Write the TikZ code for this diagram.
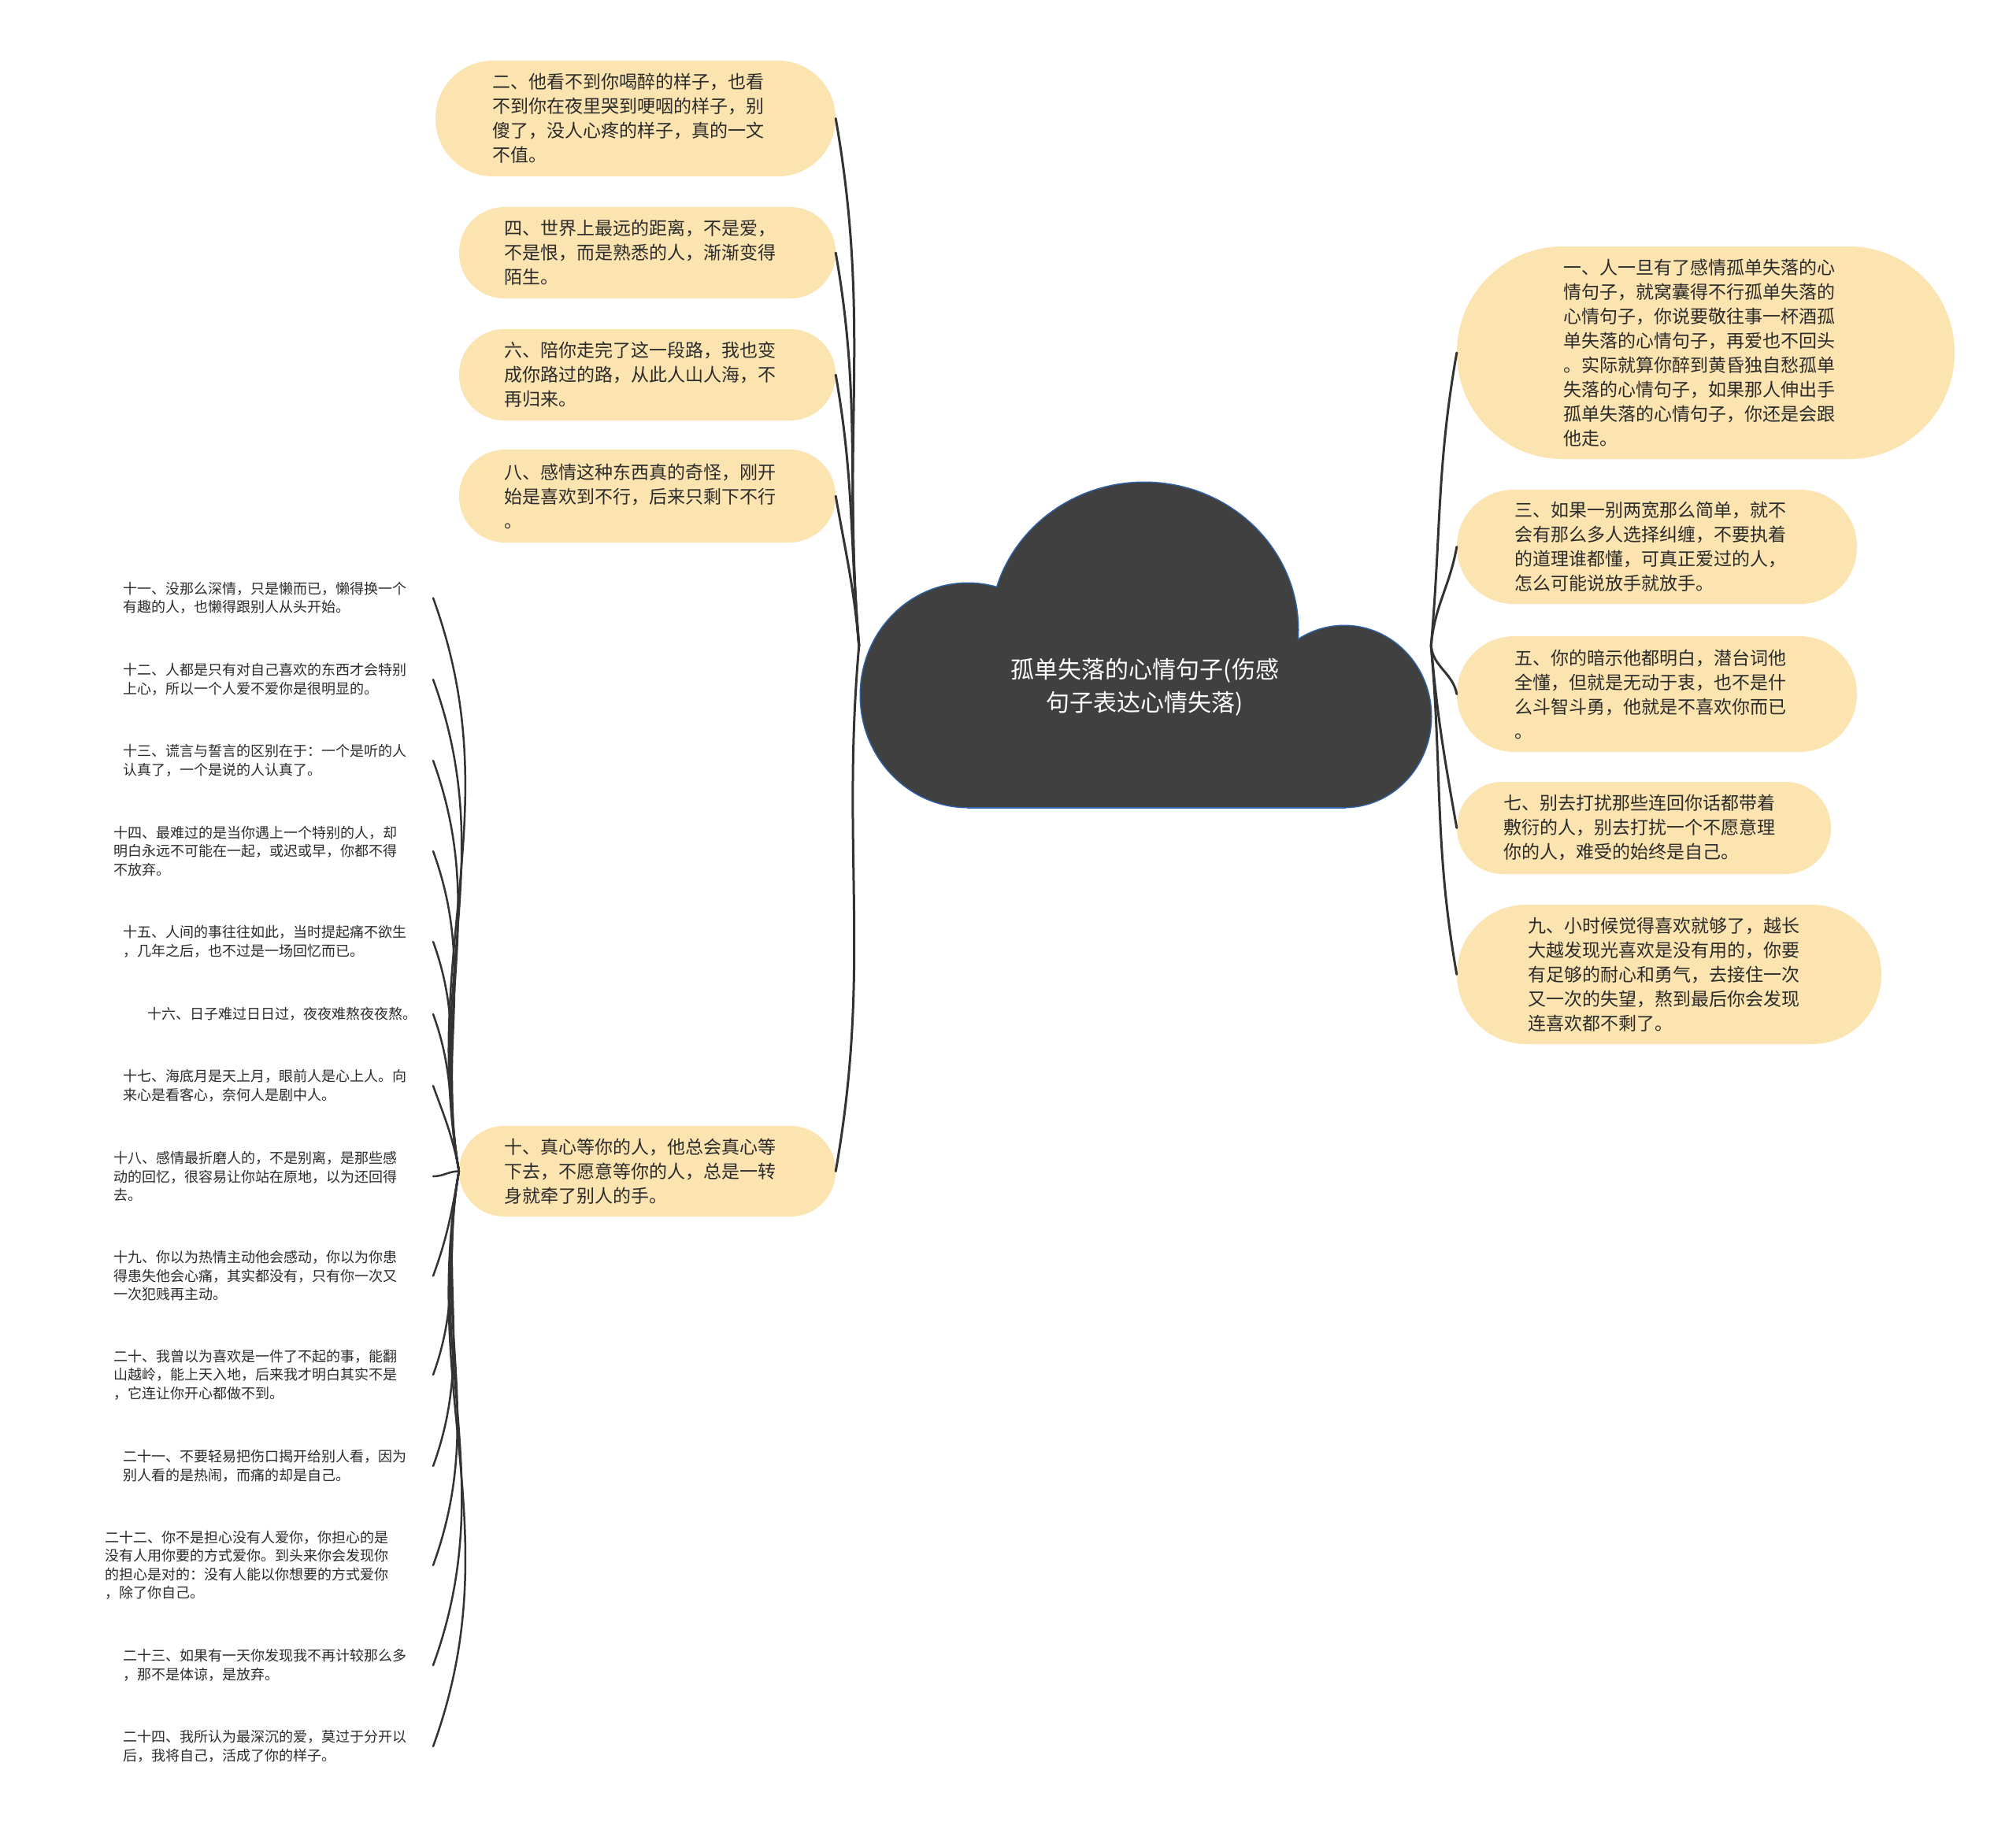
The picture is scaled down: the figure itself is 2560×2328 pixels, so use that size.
\documentclass[tikz,border=0pt]{standalone}
\usepackage{fontspec}
\setmainfont{Noto Sans CJK SC}
\usetikzlibrary{positioning}
\definecolor{moodBg}{HTML}{FFFFFF}
\definecolor{moodBox}{HTML}{FCE4B0}
\definecolor{moodInk}{HTML}{2B2B2B}
\definecolor{moodCloud}{HTML}{404040}
\definecolor{moodEdge}{HTML}{2F63A8}
\definecolor{moodLink}{HTML}{333333}
\tikzset{
  mood box/.style n args={4}{
    rectangle,
    rounded corners=#3pt,
    fill=moodBox,
    draw=none,
    text=moodInk,
    minimum width=#1pt,
    minimum height=#2pt,
    text width=#4pt,
    align=left,
    inner sep=0pt,
    font=\fontsize{23}{31}\selectfont,
  },
}
\tikzset{
  mood leaf/.style={
    anchor=east,
    inner sep=0pt,
    text width=#1pt,
    align=left,
    text=moodInk,
    font=\fontsize{18}{23.5}\selectfont,
  },
}
\tikzset{
  mood title/.style={
    text=white,
    align=center,
    inner sep=0pt,
    font=\fontsize{30}{42}\selectfont,
  },
}
\tikzset{
  mood root/.style={
    rectangle,
    minimum width=726pt,
    minimum height=411pt,
    inner sep=0pt,
  },
}
\tikzset{
  mood link/.style={
    draw=moodLink,
    line width=3pt,
    line cap=round,
  },
}
\tikzset{
  mood twig/.style={
    mood link,
    line width=2.5pt,
  },
}
\tikzset{
  mood figure/.style={
    x=1pt,
    y=-1pt,
  },
}

\begin{document}
\begin{tikzpicture}[mood figure]

  \fill[moodBg] (0,0) rectangle (2560,2328);
  \useasboundingbox (0,0) rectangle (2560,2328);

  % =========================================================================
  % Central cloud (three lobes on a flat base, thin blue outline)
  % =========================================================================
  \node[mood root] (root) at (1454, 820) {};
  \foreach \pass/\wd in {1/3pt, 2/0pt} {
    \begin{scope}[line width=\wd]
      \ifnum\pass=1 \tikzset{every path/.style={draw=moodEdge, fill=moodCloud}}
      \else \tikzset{every path/.style={fill=moodCloud}}\fi
      \path (1229, 883) ellipse [x radius=136, y radius=142];
      \path (1453, 800) ellipse [x radius=195, y radius=187];
      \path (1707, 910) ellipse [x radius=110, y radius=115];
      \path (1229, 880) rectangle (1707, 1025);
    \end{scope}
  }
  \node[mood title] (title) at (1454, 873)
    {孤单失落的心情句子(伤感\\句子表达心情失落)};

  % =========================================================================
  % Right branch
  % =========================================================================
  \node[mood box={632}{270}{134.5}{362}] (b1) at (2166, 448)
    {一、人一旦有了感情孤单失落的心\\情句子，就窝囊得不行孤单失落的\\心情句子，你说要敬往事一杯酒孤\\单失落的心情句子，再爱也不回头\\。实际就算你醉到黄昏独自愁孤单\\失落的心情句子，如果那人伸出手\\孤单失落的心情句子，你还是会跟\\他走。};
  \node[mood box={508}{145}{72}{362}] (b3) at (2104, 694.5)
    {三、如果一别两宽那么简单，就不\\会有那么多人选择纠缠，不要执着\\的道理谁都懂，可真正爱过的人，\\怎么可能说放手就放手。};
  \node[mood box={508}{147}{73}{362}] (b5) at (2104, 881.5)
    {五、你的暗示他都明白，潜台词他\\全懂，但就是无动于衷，也不是什\\么斗智斗勇，他就是不喜欢你而已\\。};
  \node[mood box={475}{117}{58}{357}] (b7) at (2087.5, 1051.5)
    {七、别去打扰那些连回你话都带着\\敷衍的人，别去打扰一个不愿意理\\你的人，难受的始终是自己。};
  \node[mood box={539}{177}{88}{359}] (b9) at (2119.5, 1237.5)
    {九、小时候觉得喜欢就够了，越长\\大越发现光喜欢是没有用的，你要\\有足够的耐心和勇气，去接住一次\\又一次的失望，熬到最后你会发现\\连喜欢都不剩了。};

  \foreach \b in {b1, b3}
    \draw[mood link] (root.east) to[out=85, in=-100] (\b.west);
  \foreach \b in {b5, b7, b9}
    \draw[mood link] (root.east) to[out=-85, in=100] (\b.west);

  % =========================================================================
  % Left branch
  % =========================================================================
  \node[mood box={508}{147}{73}{364}] (b2) at (807, 150.5)
    {二、他看不到你喝醉的样子，也看\\不到你在夜里哭到哽咽的样子，别\\傻了，没人心疼的样子，真的一文\\不值。};
  \node[mood box={478}{116}{57.5}{364}] (b4) at (822, 321)
    {四、世界上最远的距离，不是爱，\\不是恨，而是熟悉的人，渐渐变得\\陌生。};
  \node[mood box={478}{116}{57.5}{364}] (b6) at (822, 476)
    {六、陪你走完了这一段路，我也变\\成你路过的路，从此人山人海，不\\再归来。};
  \node[mood box={478}{118}{58.5}{364}] (b8) at (822, 630)
    {八、感情这种东西真的奇怪，刚开\\始是喜欢到不行，后来只剩下不行\\。};
  \node[mood box={478}{115}{57}{364}] (b10) at (822, 1487.5)
    {十、真心等你的人，他总会真心等\\下去，不愿意等你的人，总是一转\\身就牵了别人的手。};

  \foreach \b in {b2, b4, b6, b8}
    \draw[mood link] (root.west) to[out=95, in=-80] (\b.east);
  \draw[mood link] (root.west) to[out=-95, in=80] (b10.east);

  % =========================================================================
  % Leaves hanging off the tenth box
  % =========================================================================
  \node[mood leaf=393] (l11) at (550, 759.5)
    {十一、没那么深情，只是懒而已，懒得换一个\\有趣的人，也懒得跟别人从头开始。};
  \node[mood leaf=393] (l12) at (550, 863)
    {十二、人都是只有对自己喜欢的东西才会特别\\上心，所以一个人爱不爱你是很明显的。};
  \node[mood leaf=393] (l13) at (550, 966)
    {十三、谎言与誓言的区别在于：一个是听的人\\认真了，一个是说的人认真了。};
  \node[mood leaf=405] (l14) at (550, 1081)
    {十四、最难过的是当你遇上一个特别的人，却\\明白永远不可能在一起，或迟或早，你都不得\\不放弃。};
  \node[mood leaf=393] (l15) at (550, 1196)
    {十五、人间的事往往如此，当时提起痛不欲生\\，几年之后，也不过是一场回忆而已。};
  \node[mood leaf=362] (l16) at (550, 1288)
    {十六、日子难过日日过，夜夜难熬夜夜熬。};
  \node[mood leaf=393] (l17) at (550, 1379)
    {十七、海底月是天上月，眼前人是心上人。向\\来心是看客心，奈何人是剧中人。};
  \node[mood leaf=405] (l18) at (550, 1494)
    {十八、感情最折磨人的，不是别离，是那些感\\动的回忆，很容易让你站在原地，以为还回得\\去。};
  \node[mood leaf=405] (l19) at (550, 1620.5)
    {十九、你以为热情主动他会感动，你以为你患\\得患失他会心痛，其实都没有，只有你一次又\\一次犯贱再主动。};
  \node[mood leaf=405] (l20) at (550, 1746)
    {二十、我曾以为喜欢是一件了不起的事，能翻\\山越岭，能上天入地，后来我才明白其实不是\\，它连让你开心都做不到。};
  \node[mood leaf=393] (l21) at (550, 1862)
    {二十一、不要轻易把伤口揭开给别人看，因为\\别人看的是热闹，而痛的却是自己。};
  \node[mood leaf=416] (l22) at (550, 1988)
    {二十二、你不是担心没有人爱你，你担心的是\\没有人用你要的方式爱你。到头来你会发现你\\的担心是对的：没有人能以你想要的方式爱你\\，除了你自己。};
  \node[mood leaf=393] (l23) at (550, 2115)
    {二十三、如果有一天你发现我不再计较那么多\\，那不是体谅，是放弃。};
  \node[mood leaf=393] (l24) at (550, 2218)
    {二十四、我所认为最深沉的爱，莫过于分开以\\后，我将自己，活成了你的样子。};

  \foreach \l in {l11, l12, l13, l14, l15, l16, l17}
    \draw[mood twig] (b10.west) to[out=100, in=-70] (\l.east);
  \draw[mood twig] (b10.west) to[out=180, in=0] (l18.east);
  \foreach \l in {l19, l20, l21, l22, l23, l24}
    \draw[mood twig] (b10.west) to[out=-100, in=70] (\l.east);

\end{tikzpicture}
\end{document}
